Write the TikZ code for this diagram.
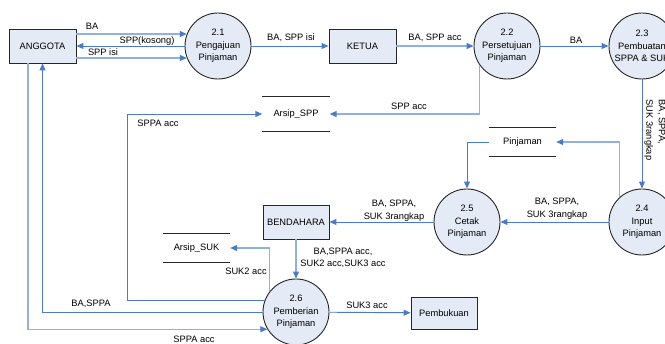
\documentclass[tikz,border=0pt]{standalone}
\usepackage{fontspec}
\setmainfont{Liberation Sans}
\usetikzlibrary{arrows.meta,calc}
\definecolor{flowdark}{HTML}{4A7BC8}
\definecolor{flowlight}{HTML}{8FB0E0}
\definecolor{shapefill}{HTML}{E4EAF6}
\tikzset{
  every node/.style={font=\fontsize{9.3}{12.5}\selectfont, inner sep=0pt},
  entity/.style={draw=black!85, line width=0.9pt, fill=shapefill, minimum width=67pt, minimum height=34pt},
  proc/.style={circle, draw=black!85, line width=0.9pt, fill=shapefill, minimum size=66pt, align=center},
  store/.style={minimum width=67pt},
  flow/.style={draw=flowdark, line width=0.95pt, -{Triangle[length=7pt,width=6pt]}},
  flowlt/.style={draw=flowlight, line width=1.2pt, -{Triangle[length=7pt,width=6pt,fill=flowdark,color=flowdark]}},
  lbl/.style={align=center}
}
\begin{document}
\begin{tikzpicture}[x=1pt,y=-1pt]
\useasboundingbox (0,0) rectangle (665,344);
\clip (0,0) rectangle (665,344);

% external entities
\node[entity] (ang) at (42.5,46) {ANGGOTA};
\node[entity] (ket) at (362.5,46) {KETUA};
\node[entity, minimum width=66pt] (ben) at (296,222) {BENDAHARA};
\node[entity, minimum width=66pt, minimum height=32pt] (pbk) at (444,313) {Pembukuan};

% processes
\node[proc] (p21) at (218,46) {2.1\\Pengajuan\\Pinjaman};
\node[proc] (p22) at (507,46) {2.2\\Persetujuan\\Pinjaman};
\node[proc] (p23) at (642,46) {2.3\\Pembuatan\\SPPA \& SUK};
\node[proc] (p24) at (642,222) {2.4\\Input\\Pinjaman};
\node[proc] (p25) at (467,222) {2.5\\Cetak\\Pinjaman};
\node[proc] (p26) at (296,312) {2.6\\Pemberian\\Pinjaman};

% data stores
\node[store, minimum height=34pt] (asp) at (296,114) {Arsip\_SPP};
\node[store, minimum height=28pt] (pjm) at (522.5,142) {Pinjaman};
\node[store, minimum height=28pt] (asu) at (196.5,248) {Arsip\_SUK};
\foreach \s in {asp,pjm,asu}{
  \draw[black!85, line width=1pt] (\s.north west) -- (\s.north east);
  \draw[black!85, line width=1pt] (\s.south west) -- (\s.south east);
}

% flows between ANGGOTA and 2.1
\draw[flowlt] (p21.159 -| ang.east) -- (p21.159);
\draw[flow] (p21.west) -- (ang.east);
\draw[flowlt] (p21.201 -| ang.east) -- (p21.201);
\node at (92,26) {BA};
\node at (147,41) {SPP(kosong)};
\node at (103,52) {SPP isi};

% approval chain
\draw[flow] (p21) -- (ket);
\node at (291,38) {BA, SPP isi};
\draw[flowlt] (ket) -- (p22);
\node at (435,38) {BA, SPP acc};
\draw[flow] (p22) -- (p23);
\node at (576,40) {BA};
\draw[flowlt] (p22.215) |- (asp.east);
\node at (409,106) {SPP acc};

% 2.3 to 2.4
\draw[flow] (p23) -- (p24);
\node[rotate=-90, align=left] at (655,130) {BA, SPPA,\\SUK 3rangkap};

% 2.4, Pinjaman, 2.5
\draw[flowlt] (p24.132) |- (pjm.east);
\draw[flow] (pjm.west) -| (p25);
\draw[flow] (p24) -- (p25);
\node[lbl] at (557,208.5) {BA, SPPA,\\SUK 3rangkap};

% 2.5 to BENDAHARA to 2.6
\draw[flow] (p25) -- (ben);
\node[lbl] at (394,210.5) {BA, SPPA,\\SUK 3rangkap};
\draw[flowlt] (ben) -- (p26);
\node[lbl] at (343,258) {BA,SPPA acc,\\SUK2 acc,SUK3 acc};

% outputs of 2.6
\draw[flowlt] (p26.142) |- (asu.east);
\node at (246,271) {SUK2 acc};
\coordinate (bend) at (127.5,114);
\draw[flow] (p26.160) -| (bend) -- (asp.west);
\node at (158,123) {SPPA acc};
\draw[flow] (p26.west) -| (ang.south);
\node at (91,304) {BA,SPPA};
\draw[flowlt] ($(ang.south)+(-14.5,0)$) |- (p26.211);
\node at (194,339) {SPPA acc};
\draw[flow] (p26) -- (pbk);
\node at (367,305) {SUK3 acc};
\end{tikzpicture}
\end{document}
